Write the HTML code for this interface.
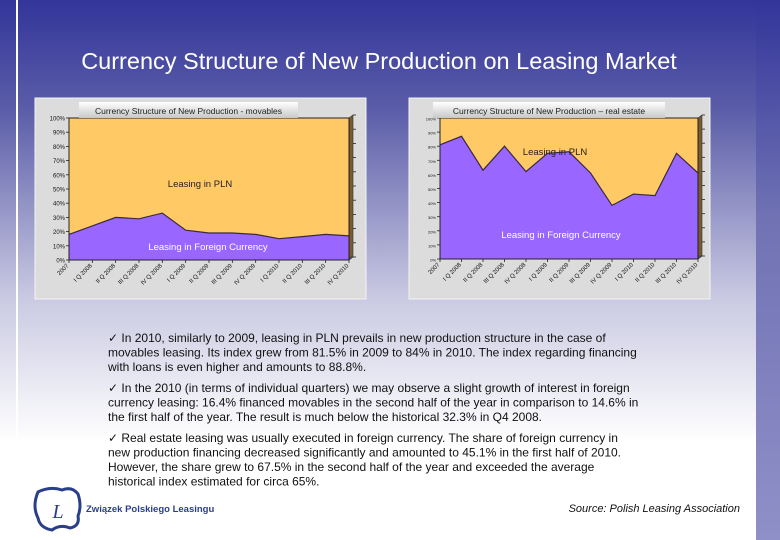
<!DOCTYPE html>
<html><head><meta charset="utf-8">
<style>
html,body{margin:0;padding:0;width:780px;height:540px;overflow:hidden;}
body{font-family:"Liberation Sans",sans-serif;}
svg{display:block}
</style></head>
<body>
<svg id="s" width="780" height="540" viewBox="0 0 780 540" xmlns="http://www.w3.org/2000/svg">
<defs>
<linearGradient id="bg" x1="0" y1="0" x2="0" y2="1">
<stop offset="0" stop-color="#33359a"/>
<stop offset="0.2" stop-color="#5a5ca8"/>
<stop offset="0.55" stop-color="#c9c9e2"/>
<stop offset="0.82" stop-color="#ffffff"/>
<stop offset="1" stop-color="#ffffff"/>
</linearGradient>
<linearGradient id="rs" x1="0" y1="0" x2="0" y2="1">
<stop offset="0" stop-color="#33359a"/>
<stop offset="0.4" stop-color="#7072b4"/>
<stop offset="1" stop-color="#9090c8"/>
</linearGradient>
<linearGradient id="tab" x1="0" y1="0" x2="0" y2="1">
<stop offset="0" stop-color="#ffffff"/>
<stop offset="1" stop-color="#c8c8c8"/>
</linearGradient>
</defs>
<rect x="0" y="0" width="780" height="540" fill="url(#bg)"/>
<rect x="756" y="0" width="24" height="540" fill="url(#rs)"/>
<rect x="16" y="0" width="2" height="540" fill="#ffffff"/>
<text x="379" y="69" text-anchor="middle" font-size="23.5" fill="#ffffff">Currency Structure of New Production on Leasing Market</text>
<g id="c1"></g>
<g id="c2"></g>
<g font-size="12" fill="#111">
<text x="108" y="342"><tspan x="108">✓ In 2010, similarly to 2009, leasing in PLN prevails in new production structure in the case of</tspan><tspan x="108" dy="14.5">movables leasing. Its index grew from 81.5% in 2009 to 84% in 2010. The index regarding financing</tspan><tspan x="108" dy="14.5">with loans is even higher and amounts to 88.8%.</tspan></text>
<text x="108" y="392"><tspan x="108">✓ In the 2010 (in terms of individual quarters) we may observe a slight growth of interest in foreign</tspan><tspan x="108" dy="14.5">currency leasing: 16.4% financed movables in the second half of the year in comparison to 14.6% in</tspan><tspan x="108" dy="14.5">the first half of the year. The result is much below the historical 32.3% in Q4 2008.</tspan></text>
<text x="108" y="442"><tspan x="108">✓ Real estate leasing was usually executed in foreign currency. The share of foreign currency in</tspan><tspan x="108" dy="14.5">new production financing decreased significantly and amounted to 45.1% in the first half of 2010.</tspan><tspan x="108" dy="14.5">However, the share grew to 67.5% in the second half of the year and exceeded the average</tspan><tspan x="108" dy="14.5">historical index estimated for circa 65%.</tspan></text>
</g>
<g>
<path d="M38 492 Q50 486 62 490 Q72 486 78 494 Q82 506 78 516 Q80 526 70 528 Q60 524 52 530 Q40 528 38 518 Q32 506 38 492 Z" fill="none" stroke="#2a3f8a" stroke-width="3"/>
<text x="58" y="518" text-anchor="middle" font-family="Liberation Serif,serif" font-style="italic" font-size="20" fill="#2a3f8a">L</text>
<text x="86" y="512" font-size="9.5" font-weight="bold" fill="#2a3f8a">Związek Polskiego Leasingu</text>
</g>
<text x="740" y="512" text-anchor="end" font-size="11" font-style="italic" fill="#111">Source: Polish Leasing Association</text>
</svg>
<script>
const categories = ["2007","I Q 2008","II Q 2008","III Q 2008","IV Q 2008","I Q 2009","II Q 2009","III Q 2009","IV Q 2009","I Q 2010","II Q 2010","III Q 2010","IV Q 2010"];
const movablesForeign = [18,24,30,29,33,21,19,19,18,15,16.5,18,17];
const realEstateForeign = [81,87,63,80,62,75,76,61,38,46,45,75,61];
const yTicks = [0,10,20,30,40,50,60,70,80,90,100];

const NS="http://www.w3.org/2000/svg";
function mk(tag, attrs, parent){const e=document.createElementNS(NS,tag);for(const k in attrs)e.setAttribute(k,attrs[k]);parent.appendChild(e);return e;}

function drawChart(g, cfg, values){
  const panel=mk('rect',{x:cfg.px,y:cfg.py,width:cfg.pw,height:cfg.ph,fill:'#dcdcdc',stroke:'#f4f4f4','stroke-width':1},g);
  
  
  const L=cfg.l,R=cfg.r,T=cfg.t,B=cfg.b,dx=4,dy=3;
  const xs=i=>L+(R-L)*i/(categories.length-1);
  const ys=v=>B-(B-T)*v/100;
  mk('polygon',{points:`${R},${T} ${R+dx},${T-dy} ${R+dx},${B-dy} ${R},${B}`,fill:'#7a5a30',stroke:'#333','stroke-width':0.6},g);
  mk('polygon',{points:`${L},${B} ${L+dx},${B-dy} ${R+dx},${B-dy} ${R},${B}`,fill:'#555',stroke:'#333','stroke-width':0.6},g);
  const pln=mk('rect',{x:L,y:T,width:R-L,height:B-T,fill:'#ffc966'},g);
  
  
  let d=`M${L},${B}`;
  values.forEach((v,i)=>{d+=` L${xs(i).toFixed(1)},${ys(v).toFixed(1)}`;});
  d+=` L${R},${B} Z`;
  const fa=mk('path',{d:d,fill:'#9966ff',stroke:'none'},g);
  
  
  let ld='';values.forEach((v,i)=>{ld+=(i?' L':'M')+xs(i).toFixed(1)+','+ys(v).toFixed(1);});
  const ln=mk('path',{d:ld,fill:'none',stroke:'#3a2a40','stroke-width':1.2},g);
  
  
  mk('rect',{x:L,y:T,width:R-L,height:B-T,fill:'none',stroke:'#222','stroke-width':1},g);
  yTicks.forEach(t=>{
    mk('line',{x1:L-3,x2:L,y1:ys(t),y2:ys(t),stroke:'#222','stroke-width':0.8},g);
    mk('line',{x1:R+dx,x2:R+dx+3,y1:ys(t)-dy,y2:ys(t)-dy,stroke:'#222','stroke-width':0.8},g);
    const tx=mk('text',{x:L-4,y:ys(t)+2.5,'text-anchor':'end','font-size':cfg.yfs,fill:'#111'},g);
    tx.textContent=t+'%';
    
    
  });
  categories.forEach((c,i)=>{
    const x=xs(i);
    mk('line',{x1:x,x2:x,y1:B,y2:B+3,stroke:'#222','stroke-width':0.8},g);
    const tx=mk('text',{x:x,y:B+6,'text-anchor':'end','font-size':6,fill:'#111',transform:`rotate(-45 ${x} ${B+6})`},g);
    tx.textContent=c;
    
    
  });
  mk('rect',{x:cfg.tx,y:102,width:cfg.tw,height:16,fill:'url(#tab)'},g);
  const tt=mk('text',{x:cfg.tx+cfg.tw/2,y:114,'text-anchor':'middle','font-size':8.5,fill:'#222'},g);
  tt.textContent=cfg.title;
  
  
  const a=mk('text',{x:cfg.plnX,y:cfg.plnY,'text-anchor':'middle','font-size':9.5,fill:'#222'},g);
  a.textContent='Leasing in PLN';
  
  
  const b=mk('text',{x:cfg.fX,y:cfg.fY,'text-anchor':'middle','font-size':9.5,fill:'#ffffff'},g);
  b.textContent='Leasing in Foreign Currency';
  
  
}
drawChart(document.getElementById('c1'),{px:35,py:98,pw:331,ph:201,l:69,r:349,t:118,b:260,yfs:6,tx:79,tw:219,title:'Currency Structure of New Production - movables',plnX:200,plnY:187,fX:208,fY:250},movablesForeign);
drawChart(document.getElementById('c2'),{px:409,py:98,pw:301,ph:201,l:440,r:698,t:118,b:259,yfs:4,tx:433,tw:232,title:'Currency Structure of New Production – real estate',plnX:555,plnY:155,fX:561,fY:238},realEstateForeign);
</script>
</body></html>
